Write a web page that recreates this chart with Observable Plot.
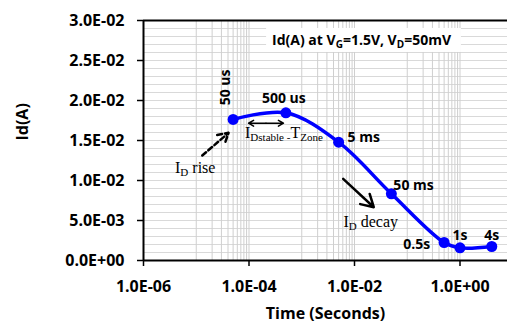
<!DOCTYPE html>
<html>
<head>
<meta charset="utf-8">
<script src="https://cdn.jsdelivr.net/npm/d3@7"></script>
<script src="https://cdn.jsdelivr.net/npm/@observablehq/plot@0.6"></script>
<style>
  html, body { margin: 0; padding: 0; background: #fff; }
  svg { display: block; }
</style>
</head>
<body>
<div id="chart"></div>
<script>
// ---- data ----
const times = [50e-6, 500e-6, 5e-3, 50e-3, 0.5, 1, 4];
const current = [0.01763, 0.01846, 0.01479, 0.00834, 0.00225, 0.00158, 0.00175];
const pointLabels = ["50 us", "500 us", "5 ms", "50 ms", "0.5s", "1s", "4s"];

const xTicks = [1e-6, 1e-4, 1e-2, 1];
const minorDecades = [1e-5, 1e-3, 1e-1];
const minorSteps = [1, 2, 3, 4, 5, 6, 7, 8, 9];
const yTicks = [0, 0.005, 0.01, 0.015, 0.02, 0.025, 0.03];
const yGridStep = 0.001;

const titleParts = [["Id(A) at V", false], ["G", true], ["=1.5V, V", false], ["D", true], ["=50mV", false]];
const titleAnchor = {t: 0.0139, v: 0.02688};

// annotation arrows (data coordinates)
const riseArrow = {t1: 1.3e-5, v1: 0.01312, t2: 4.1e-5, v2: 0.01596};
const stableArrow = {t1: 9.8e-5, t2: 4.5e-4, v: 0.01716};
const decayArrow = {t1: 6.1e-3, v1: 0.01021, t2: 0.0232, v2: 0.00666};

const riseText = {t: 4.05e-6, v: 0.01087, parts: [["I", false], ["D", true], [" rise", false]]};
const stableText = {t: 8.6e-5, v: 0.01529, parts: [["I", false], ["Dstable -", true], ["T", false], ["Zone", true]]};
const decayText = {t: 6.3e-3, v: 0.00416, parts: [["I", false], ["D", true], [" decay", false]]};

// ---- layout ----
const labelLayout = [
  {dx: -7.5, dy: -32, anchor: "middle", rotate: -90},
  {dx: -2, dy: -14, anchor: "middle", rotate: 0},
  {dx: 9, dy: -5, anchor: "start", rotate: 0},
  {dx: 2, dy: -8, anchor: "start", rotate: 0},
  {dx: -14, dy: 2, anchor: "end", rotate: 0},
  {dx: 0, dy: -12, anchor: "middle", rotate: 0},
  {dx: 0, dy: -11, anchor: "middle", rotate: 0}
];

const data = times.map((t, i) => ({t, v: current[i], label: pointLabels[i], i}));
const xGrid = xTicks.concat(minorDecades.flatMap(d => minorSteps.map(k => k * d)));
const yGrid = d3.range(0, 0.03 + yGridStep / 2, yGridStep);

const fmtE = v => {
  const [m, e] = v.toExponential(1).split("e");
  const sign = e[0] === "-" ? "-" : "+";
  return m + "E" + sign + String(Math.abs(+e)).padStart(2, "0");
};

const FONT = "'Open Sans', sans-serif";
const SERIF = "'Liberation Serif', 'DejaVu Serif', serif";

const plot = Plot.plot({
  width: 507,
  height: 329,
  marginLeft: 143,
  marginRight: 0,
  marginTop: 20,
  marginBottom: 69,
  style: {fontFamily: FONT, background: "white", overflow: "visible"},
  x: {type: "log", domain: [1e-6, 7.95]},
  y: {domain: [0, 0.03]},
  marks: [
    Plot.ruleY(yGrid, {stroke: "#d9d9d9", strokeWidth: 1}),
    Plot.ruleX(xGrid, {stroke: "#cfcfcf", strokeWidth: 1}),
    Plot.ruleY([0.03], {stroke: "black", strokeWidth: 2}),
    Plot.ruleY([0], {stroke: "black", strokeWidth: 2}),
    Plot.ruleX([1e-6], {stroke: "black", strokeWidth: 2}),
    Plot.axisX({ticks: xTicks, tickFormat: fmtE, tickSize: 6, tickPadding: 14, stroke: "black", strokeWidth: 1.5, fontSize: 16, fontWeight: "bold", fill: "black", label: null}),
    Plot.axisY({ticks: yTicks, tickFormat: fmtE, tickSize: 6, tickPadding: 13, stroke: "black", strokeWidth: 1.5, fontSize: 16, fontWeight: "bold", fill: "black", label: null}),
    Plot.text(["Time (Seconds)"], {frameAnchor: "bottom", dy: 58, text: d => d, fontSize: 16, fontWeight: "bold", fill: "black"}),
    Plot.text(["Id(A)"], {frameAnchor: "left", dx: -121, rotate: -90, text: d => d, fontSize: 16, fontWeight: "bold", fill: "black"}),
    Plot.arrow([riseArrow], {x1: "t1", y1: "v1", x2: "t2", y2: "v2", stroke: "black", strokeWidth: 2.5, strokeDasharray: "5,3", headLength: 9, bend: 0}),
    Plot.arrow([stableArrow], {x1: d => Math.sqrt(d.t1 * d.t2), y1: "v", x2: "t1", y2: "v", stroke: "black", strokeWidth: 1.5, headLength: 6}),
    Plot.arrow([stableArrow], {x1: d => Math.sqrt(d.t1 * d.t2), y1: "v", x2: "t2", y2: "v", stroke: "black", strokeWidth: 1.5, headLength: 6}),
    Plot.arrow([decayArrow], {x1: "t1", y1: "v1", x2: "t2", y2: "v2", stroke: "black", strokeWidth: 2.5, headLength: 9}),
    Plot.line(data, {x: "t", y: "v", stroke: "#0000ff", strokeWidth: 3.5, curve: "catmull-rom"}),
    Plot.dot(data, {x: "t", y: "v", r: 5.5, fill: "#0000ff", stroke: "none"}),
    ...labelLayout.map((L, i) => Plot.text(data.filter(d => d.i === i), {
      x: "t", y: "v", text: "label", dx: L.dx, dy: L.dy, textAnchor: L.anchor, rotate: L.rotate,
      fontSize: 14, fontWeight: "bold", fill: "black"
    }))
  ]
});

document.getElementById("chart").appendChild(plot);

const sx = plot.scale("x"), sy = plot.scale("y");
const svg = d3.select(plot);

function richText(g, x, y, parts, opts) {
  const t = g.append("text")
    .attr("x", x).attr("y", y)
    .attr("font-family", opts.family)
    .attr("font-size", opts.size)
    .attr("font-weight", opts.weight || "normal")
    .attr("fill", "black")
    .attr("text-anchor", opts.anchor || "start");
  let sub = false;
  for (const [s, isSub] of parts) {
    const ts = t.append("tspan").text(s);
    if (isSub && !sub) ts.attr("dy", opts.subShift).attr("font-size", opts.subSize);
    else if (!isSub && sub) ts.attr("dy", -opts.subShift);
    if (isSub) ts.attr("font-size", opts.subSize);
    sub = isSub;
  }
  return t;
}

// title with white box
const tg = svg.append("g");
const title = richText(tg, sx.apply(titleAnchor.t), sy.apply(titleAnchor.v), titleParts,
  {family: FONT, size: 14, weight: "bold", subSize: 10, subShift: 3, anchor: "middle"});
const bb = title.node().getBBox();
tg.insert("rect", "text")
  .attr("x", bb.x - 6).attr("y", bb.y - 2)
  .attr("width", bb.width + 15).attr("height", bb.height + 3)
  .attr("fill", "white");

const ag = svg.append("g");
for (const a of [riseText, stableText, decayText]) {
  richText(ag, sx.apply(a.t), sy.apply(a.v), a.parts,
    {family: SERIF, size: 16, subSize: 11, subShift: 3});
}
</script>
</body>
</html>
